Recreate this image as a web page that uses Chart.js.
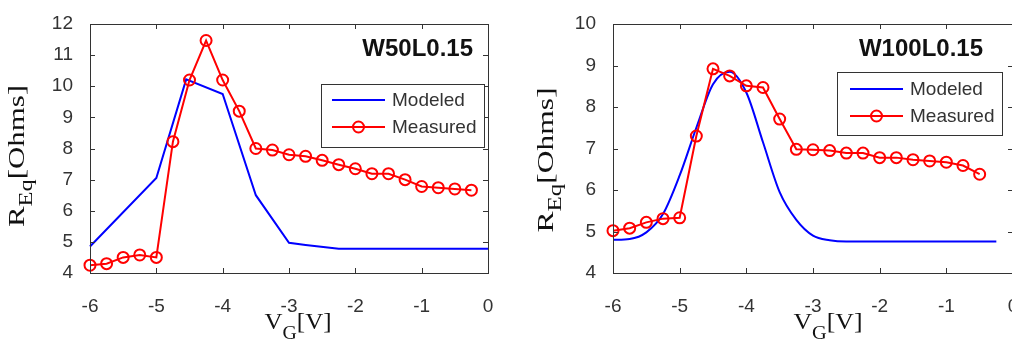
<!DOCTYPE html>
<html><head><meta charset="utf-8">
<script src="https://cdn.jsdelivr.net/npm/chart.js@4"></script>
<style>
html,body{margin:0;padding:0;background:#fff;overflow:hidden;width:1021px;height:343px;}
#w1{position:absolute;left:0;top:0;width:510px;height:343px;}
#w2{position:absolute;left:520px;top:0;width:492px;height:343px;overflow:hidden;}
canvas{display:block;}
</style></head><body>
<div id="w1"><canvas id="c1" width="510" height="343"></canvas></div>
<div id="w2"><canvas id="c2" width="520" height="343"></canvas></div>
<script>
// ---- data ----
const vgTicks = [-6, -5, -4, -3, -2, -1, 0];
const yTicksLeft = [4, 5, 6, 7, 8, 9, 10, 11, 12];
const yTicksRight = [4, 5, 6, 7, 8, 9, 10];

const vgLeftMeasured = [-6, -5.75, -5.5, -5.25, -5, -4.75, -4.5, -4.25, -4, -3.75, -3.5, -3.25, -3, -2.75, -2.5, -2.25, -2, -1.75, -1.5, -1.25, -1, -0.75, -0.5, -0.25];
const rLeftMeasured = [4.25, 4.3, 4.5, 4.58, 4.5, 8.22, 10.2, 11.47, 10.2, 9.2, 8.0, 7.95, 7.8, 7.75, 7.62, 7.48, 7.35, 7.19, 7.19, 7.0, 6.78, 6.74, 6.7, 6.66];
const vgLeftModeled = [-6, -5, -4.55, -4, -3.5, -3, -2.75, -2.25, -1, 0];
const rLeftModeled = [4.85, 7.05, 10.22, 9.75, 6.5, 4.97, 4.9, 4.78, 4.78, 4.78];

const vgRightMeasured = [-6, -5.75, -5.5, -5.25, -5, -4.75, -4.5, -4.25, -4, -3.75, -3.5, -3.25, -3, -2.75, -2.5, -2.25, -2, -1.75, -1.5, -1.25, -1, -0.75, -0.5];
const rRightMeasured = [5.02, 5.08, 5.22, 5.31, 5.33, 7.3, 8.92, 8.75, 8.51, 8.47, 7.71, 6.98, 6.97, 6.95, 6.89, 6.89, 6.78, 6.78, 6.73, 6.7, 6.67, 6.59, 6.38];
const vgRightModeled = [-6, -5.75, -5.5, -5.25, -5, -4.75, -4.5, -4.25, -4, -3.75, -3.5, -3.25, -3, -2.75, -2.5, -2, -1, -0.25];
const rRightModeled = [4.8, 4.82, 4.98, 5.42, 6.35, 7.5, 8.55, 8.85, 8.35, 7.15, 5.95, 5.28, 4.9, 4.79, 4.76, 4.76, 4.76, 4.76];

const seriesNames = ['Modeled', 'Measured'];
const panelTitles = ['W50L0.15', 'W100L0.15'];

const BLUE = '#0000ff', RED = '#ff0000', AX = '#333333';

function pts(xs, ys) { return xs.map((x, i) => ({ x: x, y: ys[i] })); }

function makePlugin(o) {
  return {
    id: 'decor',
    afterDraw(chart) {
      const ctx = chart.ctx, a = chart.chartArea;
      const xs = chart.scales.x, ys = chart.scales.y;
      ctx.save();
      // box
      ctx.strokeStyle = AX; ctx.lineWidth = 1;
      ctx.strokeRect(Math.round(a.left) + 0.5, Math.round(a.top) + 0.5, Math.round(a.right - a.left), Math.round(a.bottom - a.top));
      // inward ticks
      ctx.beginPath();
      o.xticks.forEach(v => {
        const p = Math.round(xs.getPixelForValue(v)) + 0.5;
        ctx.moveTo(p, a.bottom); ctx.lineTo(p, a.bottom - 5);
        ctx.moveTo(p, a.top); ctx.lineTo(p, a.top + 5);
      });
      o.yticks.forEach(v => {
        const p = Math.round(ys.getPixelForValue(v)) + 0.5;
        ctx.moveTo(a.left, p); ctx.lineTo(a.left + 5, p);
        ctx.moveTo(a.right, p); ctx.lineTo(a.right - 5, p);
      });
      ctx.stroke();

      // panel title
      ctx.fillStyle = '#111';
      ctx.font = 'bold 24px "Liberation Sans", Arial, sans-serif';
      ctx.textAlign = 'right'; ctx.textBaseline = 'alphabetic';
      ctx.fillText(o.title, o.titleX, o.titleY);

      // legend
      const L = o.legend;
      ctx.fillStyle = '#fff';
      ctx.fillRect(L.x, L.y, L.w, L.h);
      ctx.strokeStyle = AX; ctx.lineWidth = 1;
      ctx.strokeRect(L.x + 0.5, L.y + 0.5, L.w, L.h);
      const ds = chart.data.datasets;
      ctx.font = '19px "Liberation Sans", Arial, sans-serif';
      ctx.textAlign = 'left'; ctx.textBaseline = 'middle';
      [L.y1, L.y2].forEach((yy, i) => {
        const d = ds[i];
        ctx.strokeStyle = d.borderColor; ctx.lineWidth = 2;
        ctx.beginPath(); ctx.moveTo(L.lx1, yy); ctx.lineTo(L.lx2, yy); ctx.stroke();
        if (d.pointRadius > 0) {
          ctx.beginPath(); ctx.arc((L.lx1 + L.lx2) / 2, yy, d.pointRadius, 0, Math.PI * 2); ctx.stroke();
        }
        ctx.fillStyle = '#333';
        ctx.fillText(d.label, L.tx, yy + 1);
      });

      // x axis title: V_G[V]
      const main = 24, sub = 19;
      ctx.fillStyle = '#111';
      ctx.textBaseline = 'alphabetic'; ctx.textAlign = 'left';
      const serif = '"Liberation Serif", "Times New Roman", serif';
      function runs(parts) {
        let w = 0;
        parts.forEach(p => { ctx.font = p.s + 'px ' + serif; p.w = ctx.measureText(p.t).width; w += p.w; });
        return w;
      }
      const xp = [{ t: 'V', s: main, d: 0 }, { t: 'G', s: sub, d: 10 }, { t: '[V]', s: main, d: 0 }];
      const xw = runs(xp);
      const xk = o.xTitleLen / xw;
      ctx.save();
      ctx.translate(o.xTitleCx, o.xTitleBase);
      ctx.scale(xk, 1);
      let cx = -xw / 2;
      xp.forEach(p => { ctx.font = p.s + 'px ' + serif; ctx.fillText(p.t, cx, p.d); cx += p.w; });
      ctx.restore();

      // y axis title: R_Eq[Ohms]
      const yp = [{ t: 'R', s: main, d: 0 }, { t: 'Eq', s: sub, d: 8 }, { t: '[Ohms]', s: main, d: 0 }];
      const yw = runs(yp);
      const yk = o.yTitleLen / yw;
      ctx.save();
      ctx.translate(o.yTitleBase, o.yTitleCy);
      ctx.rotate(-Math.PI / 2);
      ctx.scale(yk, 1);
      let cy = -yw / 2;
      yp.forEach(p => { ctx.font = p.s + 'px ' + serif; ctx.fillText(p.t, cy, p.d); cy += p.w; });
      ctx.restore();

      ctx.restore();
    }
  };
}

function makeChart(id, o) {
  return new Chart(document.getElementById(id), {
    type: 'line',
    data: {
      datasets: [
        {
          label: seriesNames[0], data: pts(o.mx, o.my),
          borderColor: BLUE, borderWidth: 2, pointRadius: 0,
          cubicInterpolationMode: o.smooth ? 'monotone' : 'default', tension: 0,
          order: 1, clip: false
        },
        {
          label: seriesNames[1], data: pts(o.ex, o.ey),
          borderColor: RED, borderWidth: 2, pointRadius: 5.5, pointBorderWidth: 2,
          pointBorderColor: RED, pointBackgroundColor: 'rgba(0,0,0,0)',
          tension: 0, order: 0, clip: false
        }
      ]
    },
    options: {
      responsive: false, animation: false, events: [],
      devicePixelRatio: 1,
      layout: { padding: { top: 24, right: o.padRight, left: 0, bottom: 0 } },
      plugins: { legend: { display: false }, tooltip: { enabled: false }, title: { display: false } },
      scales: {
        x: {
          type: 'linear', min: -6, max: 0,
          afterBuildTicks: s => { s.ticks = o.xticks.map(v => ({ value: v })); },
          afterFit: s => { s.height = 70; },
          grid: { display: false }, border: { display: false },
          ticks: { color: '#333', padding: 14, maxRotation: 0, font: { family: '"Liberation Sans", Arial, sans-serif', size: 19 } }
        },
        y: {
          type: 'linear', min: o.yticks[0], max: o.yticks[o.yticks.length - 1],
          afterBuildTicks: s => { s.ticks = o.yticks.map(v => ({ value: v })); },
          afterFit: s => { s.width = o.yWidth; },
          grid: { display: false }, border: { display: false },
          ticks: { color: '#333', padding: 9, font: { family: '"Liberation Sans", Arial, sans-serif', size: 19 } }
        }
      }
    },
    plugins: [makePlugin(o)]
  });
}

makeChart('c1', {
  mx: vgLeftModeled, my: rLeftModeled, ex: vgLeftMeasured, ey: rLeftMeasured, smooth: false,
  xticks: vgTicks, yticks: yTicksLeft, yWidth: 90, padRight: 22,
  title: panelTitles[0], titleX: 473, titleY: 56,
  legend: { x: 321, y: 84, w: 163, h: 63, y1: 100, y2: 127, lx1: 332, lx2: 385, tx: 392 },
  xTitleCx: 298, xTitleBase: 329, xTitleLen: 67,
  yTitleBase: 24, yTitleCy: 156, yTitleLen: 142
});

makeChart('c2', {
  mx: vgRightModeled, my: rRightModeled, ex: vgRightMeasured, ey: rRightMeasured, smooth: true,
  xticks: vgTicks, yticks: yTicksRight, yWidth: 93, padRight: 27,
  title: panelTitles[1], titleX: 463, titleY: 56,
  legend: { x: 317, y: 72, w: 165, h: 63, y1: 89, y2: 116, lx1: 330, lx2: 383, tx: 390 },
  xTitleCx: 308, xTitleBase: 329, xTitleLen: 69,
  yTitleBase: 33, yTitleCy: 160, yTitleLen: 145
});
</script>
</body></html>
